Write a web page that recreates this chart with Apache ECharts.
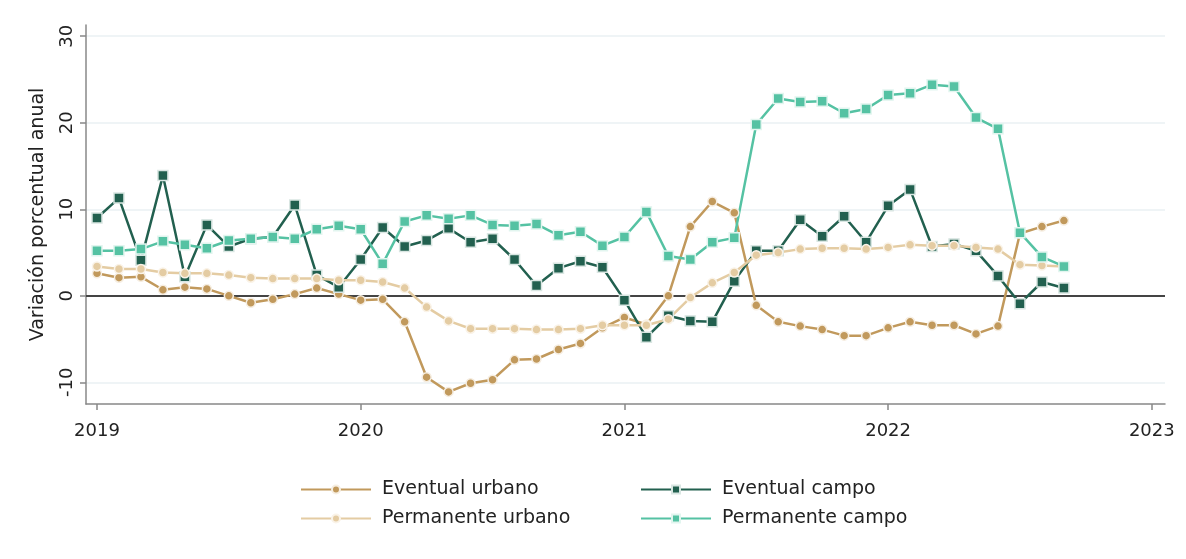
<!DOCTYPE html>
<html>
<head>
<meta charset="utf-8">
<script src="https://cdn.jsdelivr.net/npm/echarts@6/dist/echarts.min.js"></script>
<style>
  html, body { margin: 0; padding: 0; background: #fff; }
  #chart { width: 1186px; height: 559px; }
</style>
</head>
<body>
<div id="chart"></div>
<script>
// meses desde enero 2019 (0 = ene 2019, 44 = sep 2022)
const nMeses = 45
const anios = [2019, 2020, 2021, 2022, 2023]
const ticksY = [-10, 0, 10, 20, 30]

const eventualUrbano = [
  2.6, 2.1, 2.2, 0.7, 1.0, 0.8, 0.0, -0.8, -0.4, 0.2, 0.9, 0.2,
  -0.5, -0.4, -3.0, -9.4, -11.1, -10.1, -9.7, -7.4, -7.3, -6.2, -5.5, -3.7,
  -2.5, -3.3, 0.0, 8.0, 10.9, 9.6, -1.1, -3.0, -3.5, -3.9, -4.6, -4.6,
  -3.7, -3.0, -3.4, -3.4, -4.4, -3.5, 7.2, 8.0, 8.7
]
const permanenteUrbano = [
  3.4, 3.1, 3.1, 2.7, 2.6, 2.6, 2.4, 2.1, 2.0, 2.0, 2.0, 1.8,
  1.8, 1.6, 0.9, -1.3, -2.9, -3.8, -3.8, -3.8, -3.9, -3.9, -3.8, -3.4,
  -3.4, -3.4, -2.7, -0.2, 1.5, 2.7, 4.7, 5.0, 5.4, 5.5, 5.5, 5.4,
  5.6, 5.9, 5.8, 5.8, 5.6, 5.4, 3.6, 3.5, 3.4
]
const eventualCampo = [
  9.0, 11.3, 4.1, 13.9, 2.2, 8.2, 5.7, 6.6, 6.8, 10.5, 2.4, 1.0,
  4.2, 7.9, 5.7, 6.4, 7.8, 6.2, 6.6, 4.2, 1.2, 3.2, 4.0, 3.3,
  -0.5, -4.8, -2.3, -2.9, -3.0, 1.7, 5.2, 5.2, 8.8, 6.9, 9.2, 6.2,
  10.4, 12.3, 5.7, 6.0, 5.2, 2.3, -0.9, 1.6, 0.9
]
const permanenteCampo = [
  5.2, 5.2, 5.4, 6.3, 5.9, 5.5, 6.4, 6.6, 6.8, 6.6, 7.7, 8.1,
  7.7, 3.7, 8.6, 9.3, 8.9, 9.3, 8.2, 8.1, 8.3, 7.0, 7.4, 5.8,
  6.8, 9.7, 4.6, 4.2, 6.2, 6.7, 19.8, 22.8, 22.4, 22.5, 21.1, 21.6,
  23.2, 23.4, 24.4, 24.2, 20.6, 19.3, 7.3, 4.5, 3.4
]

const colores = {
  eu: '#C1995C',
  pu: '#E4CCA3',
  ec: '#22604F',
  pc: '#55C2A3'
}

const toPares = arr => arr.slice(0, nMeses).map((v, i) => [i, v])
const aniosMes = anios.map(a => (a - 2019) * 12)

function serie(nombre, datos, color, simbolo, borde) {
  return {
    name: nombre,
    type: 'line',
    data: toPares(datos),
    symbol: simbolo,
    symbolSize: simbolo === 'circle' ? 9 : 10,
    showAllSymbol: true,
    lineStyle: { color: color, width: 2.5 },
    itemStyle: { color: color, borderColor: borde, borderWidth: 1.5 },
    emphasis: { disabled: true },
    z: 3
  }
}

const myChart = echarts.init(document.getElementById('chart'))
const fuente = "'DejaVu Sans', sans-serif"
const leyendaBase = {
  orient: 'vertical', itemGap: 10,
  itemWidth: 70, itemHeight: 10,
  textStyle: { fontSize: 19, color: '#222', fontFamily: fuente, padding: [0, 0, 0, 6] }
}

myChart.setOption({
  animation: false,
  textStyle: { fontFamily: fuente },
  grid: { left: 86, right: 21, top: 25, bottom: 155 },
  legend: [
    Object.assign({ left: 295, top: 475, data: ['Eventual urbano', 'Permanente urbano'] }, leyendaBase),
    Object.assign({ left: 635, top: 475, data: ['Eventual campo', 'Permanente campo'] }, leyendaBase)
  ],
  xAxis: {
    type: 'value',
    min: -0.5,
    max: 48.6,
    axisLine: { show: true, onZero: false, lineStyle: { color: '#888', width: 1.5 } },
    axisTick: { show: true, length: 6, customValues: aniosMes, lineStyle: { color: '#888', width: 1.5 } },
    axisLabel: {
      customValues: aniosMes,
      formatter: v => String(2019 + Math.round(v / 12)),
      fontSize: 18, color: '#222', margin: 18
    },
    splitLine: { show: false }
  },
  yAxis: {
    type: 'value',
    min: -12.5,
    max: 31.3,
    name: 'Variación porcentual anual',
    nameLocation: 'middle',
    nameRotate: 90,
    nameGap: 38,
    nameTextStyle: { fontSize: 19, color: '#222' },
    axisLine: { show: true, onZero: false, lineStyle: { color: '#888', width: 1.5 } },
    axisTick: { show: true, length: 6, customValues: ticksY, lineStyle: { color: '#888', width: 1.5 } },
    axisLabel: {
      customValues: ticksY,
      rotate: 90,
      fontSize: 18, color: '#222', margin: 10
    },
    splitLine: { show: true, customValues: ticksY, lineStyle: { color: '#EAF1F3', width: 1.5 } }
  },
  series: [
    serie('Eventual urbano', eventualUrbano, colores.eu, 'circle', '#F6EEE2'),
    serie('Eventual campo', eventualCampo, colores.ec, 'rect', '#D9E6E2'),
    serie('Permanente urbano', permanenteUrbano, colores.pu, 'circle', '#FAF3E8'),
    Object.assign(serie('Permanente campo', permanenteCampo, colores.pc, 'rect', '#E2F5EF'), {
      markLine: {
        silent: true,
        symbol: 'none',
        label: { show: false },
        lineStyle: { color: '#444', width: 1.8, type: 'solid' },
        data: [{ yAxis: 0 }],
        z: 1
      }
    })
  ]
})
</script>
</body>
</html>
